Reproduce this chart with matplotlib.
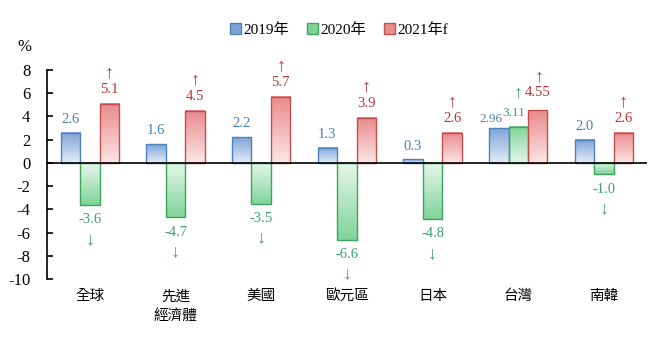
import numpy as np
import matplotlib
matplotlib.use('Agg')
import matplotlib.pyplot as plt
from matplotlib.colors import LinearSegmentedColormap
from matplotlib.patches import Patch

plt.rcParams['font.family'] = ['Liberation Serif', 'Noto Sans CJK TC']
plt.rcParams['axes.unicode_minus'] = False

#%% data
regions = ['全球', '先進\n經濟體', '美國', '歐元區', '日本', '台灣', '南韓']
series = ['2019年', '2020年', '2021年f']
v2019 = [2.6, 1.6, 2.2, 1.3, 0.3, 2.96, 2.0]
v2020 = [-3.6, -4.7, -3.5, -6.6, -4.8, 3.11, -1.0]
v2021 = [5.1, 4.5, 5.7, 3.9, 2.6, 4.55, 2.6]
lab2019 = ['2.6', '1.6', '2.2', '1.3', '0.3', '2.96', '2.0']
lab2020 = ['-3.6', '-4.7', '-3.5', '-6.6', '-4.8', '3.11', '-1.0']
lab2021 = ['5.1', '4.5', '5.7', '3.9', '2.6', '4.55', '2.6']

edge_cols = ['#4f81bd', '#3fa45b', '#c0504d']
dark_cols = ['#7ea3d9', '#7fd49a', '#e98a8b']
light_cols = ['#e4ecf7', '#e6f6ea', '#fce6e6']
text_cols = ['#4a7db5', '#3f9e72', '#b83232']

#%% figure
fig = plt.figure(figsize=(6.71, 3.44), dpi=100)
ax = fig.add_axes([0.070, 0.189, 0.894, 0.6076])

x = np.arange(len(regions))
w = 0.227
offsets = [-w, 0, w]
vals_all = [v2019, v2020, v2021]

for k in range(3):
    cmap = LinearSegmentedColormap.from_list('g%d' % k, [light_cols[k], dark_cols[k]])
    bars = ax.bar(x + offsets[k], vals_all[k], width=w, facecolor='none',
                  edgecolor=edge_cols[k], linewidth=1.0, zorder=3)
    grad = np.linspace(0, 1, 100).reshape(-1, 1)
    for b, v in zip(bars, vals_all[k]):
        x0 = b.get_x()
        if v >= 0:
            ax.imshow(grad, extent=[x0, x0 + w, 0, v], origin='lower',
                      aspect='auto', cmap=cmap, zorder=2)
        else:
            ax.imshow(grad[::-1], extent=[x0, x0 + w, v, 0], origin='lower',
                      aspect='auto', cmap=cmap, zorder=2)

fs = 10.5
arrow_fs = 13
# value labels with arrows
for i in range(len(regions)):
    if regions[i] == '台灣':
        # crowded group, labels squeezed together
        ax.text(x[i] - w - 0.09, v2019[i] + 0.85, lab2019[i], ha='center', va='center',
                color=text_cols[0], fontsize=9.5)
        ax.text(x[i] - 0.05, v2020[i] + 1.2, lab2020[i], ha='center', va='center',
                color=text_cols[1], fontsize=9.5)
        ax.text(x[i], v2020[i] + 2.9, '↑', ha='center', va='center',
                color=text_cols[1], fontsize=arrow_fs)
        ax.text(x[i] + w, v2021[i] + 1.55, lab2021[i], ha='center', va='center',
                color=text_cols[2], fontsize=fs)
        ax.text(x[i] + w + 0.02, v2021[i] + 2.85, '↑', ha='center', va='center',
                color=text_cols[2], fontsize=arrow_fs)
        continue
    ax.text(x[i] - w, v2019[i] + 1.15, lab2019[i], ha='center', va='center',
            color=text_cols[0], fontsize=fs)
    ax.text(x[i], v2020[i] - 1.3, lab2020[i], ha='center', va='center',
            color=text_cols[1], fontsize=fs)
    ax.text(x[i], v2020[i] - 3.0, '↓', ha='center', va='center',
            color=text_cols[1], fontsize=arrow_fs)
    ax.text(x[i] + w, v2021[i] + 1.2, lab2021[i], ha='center', va='center',
            color=text_cols[2], fontsize=fs)
    ax.text(x[i] + w, v2021[i] + 2.65, '↑', ha='center', va='center',
            color=text_cols[2], fontsize=arrow_fs)

ax.axhline(0, color='black', linewidth=1.2, zorder=4)

ax.set_xlim(-0.5, len(regions) - 0.5)
ax.set_ylim(-10, 8)
ax.set_yticks(range(-10, 9, 2))
ax.tick_params(axis='y', direction='in', length=4, width=1.2, labelsize=12, pad=12)
ax.set_xticks([])
for s in ['top', 'right', 'bottom']:
    ax.spines[s].set_visible(False)
ax.spines['left'].set_linewidth(1.2)

for i, r in enumerate(regions):
    ax.text(x[i], -10.9, r, ha='center', va='top', fontsize=10.5,
            linespacing=1.45, family=['Noto Sans CJK TC'])

fig.text(0.037, 0.862, '%', ha='center', va='center', fontsize=12)

handles = [Patch(facecolor=dark_cols[k], edgecolor=edge_cols[k], linewidth=1.0) for k in range(3)]
fig.legend(handles, series, loc='center', bbox_to_anchor=(0.505, 0.913), ncol=3,
           frameon=False, fontsize=11, handlelength=0.7, handleheight=0.7,
           handletextpad=0.15, columnspacing=1.2)

plt.savefig('out.png', dpi=100)
